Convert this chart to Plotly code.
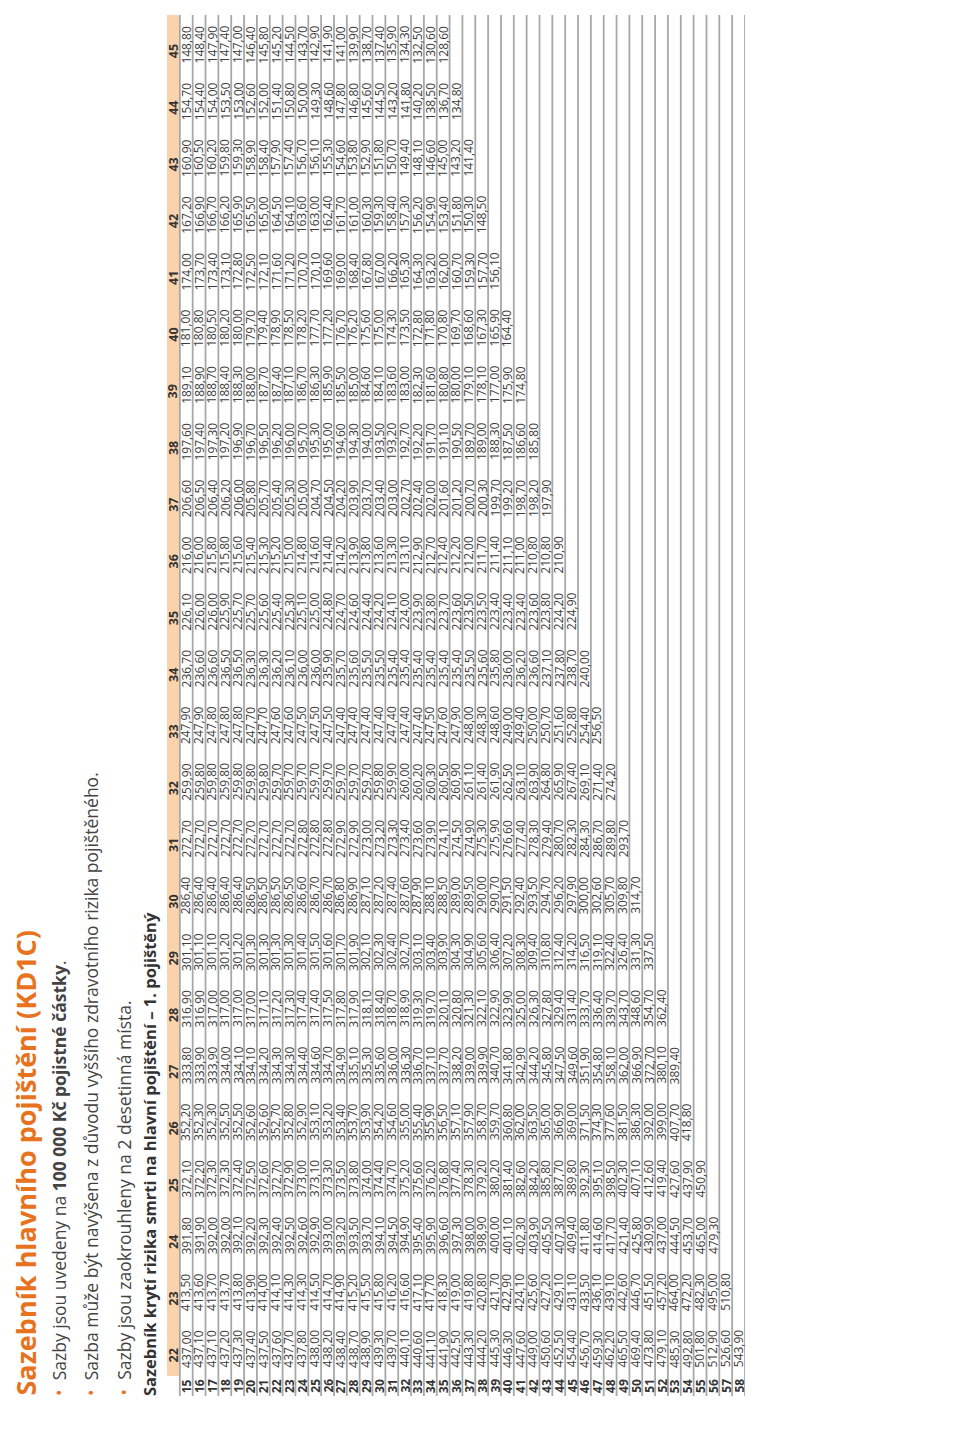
import plotly.graph_objects as go

# ---------------- data ----------------
ages = list(range(15, 59))          # age of the insured (rows)
terms = list(range(22, 46))         # policy term (columns)

t22 = [437.00, 437.10, 437.10, 437.20, 437.30, 437.40, 437.50, 437.60, 437.70, 437.80, 438.00, 438.20, 438.40, 438.70, 438.90, 439.30, 439.70, 440.10, 440.60, 441.10, 441.90, 442.50, 443.30, 444.20, 445.30, 446.30, 447.60, 449.00, 450.60, 452.50, 454.40, 456.70, 459.30, 462.20, 465.50, 469.40, 473.80, 479.10, 485.30, 492.80, 501.80, 512.90, 526.60, 543.90]
t23 = [413.50, 413.60, 413.70, 413.70, 413.80, 413.90, 414.00, 414.10, 414.30, 414.30, 414.50, 414.70, 414.90, 415.20, 415.50, 415.80, 416.20, 416.60, 417.10, 417.70, 418.30, 419.00, 419.80, 420.80, 421.70, 422.90, 424.10, 425.60, 427.20, 429.10, 431.10, 433.50, 436.10, 439.10, 442.60, 446.70, 451.50, 457.20, 464.00, 472.20, 482.30, 495.00, 510.80]
t24 = [391.80, 391.90, 392.00, 392.00, 392.10, 392.20, 392.30, 392.40, 392.50, 392.60, 392.90, 393.00, 393.20, 393.50, 393.70, 394.10, 394.50, 394.90, 395.40, 395.90, 396.60, 397.30, 398.00, 398.90, 400.00, 401.10, 402.30, 403.90, 405.50, 407.30, 409.40, 411.80, 414.60, 417.70, 421.40, 425.80, 430.90, 437.00, 444.50, 453.70, 465.00, 479.30]
t25 = [372.10, 372.20, 372.30, 372.30, 372.40, 372.50, 372.60, 372.70, 372.90, 373.00, 373.10, 373.30, 373.50, 373.80, 374.00, 374.40, 374.70, 375.20, 375.60, 376.20, 376.80, 377.40, 378.30, 379.20, 380.20, 381.40, 382.60, 384.20, 385.80, 387.70, 389.80, 392.30, 395.10, 398.50, 402.30, 407.10, 412.60, 419.40, 427.60, 437.90, 450.90]
t26 = [352.20, 352.30, 352.30, 352.50, 352.50, 352.60, 352.60, 352.70, 352.80, 352.90, 353.10, 353.20, 353.40, 353.70, 353.90, 354.20, 354.60, 355.00, 355.40, 355.90, 356.50, 357.10, 357.90, 358.70, 359.70, 360.80, 362.00, 363.50, 365.00, 366.90, 369.00, 371.50, 374.30, 377.60, 381.50, 386.30, 392.00, 399.00, 407.70, 418.80]
t27 = [333.80, 333.90, 333.90, 334.00, 334.10, 334.10, 334.20, 334.30, 334.30, 334.40, 334.60, 334.70, 334.90, 335.10, 335.30, 335.60, 336.00, 336.30, 336.70, 337.10, 337.70, 338.20, 339.00, 339.90, 340.70, 341.80, 342.90, 344.20, 345.80, 347.50, 349.60, 351.90, 354.80, 358.10, 362.00, 366.90, 372.70, 380.10, 389.40]
t28 = [316.90, 316.90, 317.00, 317.00, 317.00, 317.00, 317.10, 317.20, 317.30, 317.40, 317.40, 317.50, 317.80, 317.90, 318.10, 318.40, 318.70, 318.90, 319.30, 319.70, 320.10, 320.80, 321.30, 322.10, 322.90, 323.90, 325.00, 326.30, 327.80, 329.40, 331.40, 333.70, 336.40, 339.70, 343.70, 348.60, 354.70, 362.40]
t29 = [301.10, 301.10, 301.10, 301.20, 301.20, 301.30, 301.30, 301.30, 301.30, 301.40, 301.50, 301.60, 301.70, 301.90, 302.10, 302.30, 302.40, 302.70, 303.10, 303.40, 303.90, 304.30, 304.90, 305.60, 306.40, 307.20, 308.30, 309.40, 310.80, 312.40, 314.20, 316.50, 319.10, 322.40, 326.40, 331.30, 337.50]
t30 = [286.40, 286.40, 286.40, 286.40, 286.40, 286.50, 286.50, 286.50, 286.50, 286.60, 286.70, 286.70, 286.80, 286.90, 287.10, 287.20, 287.40, 287.60, 287.90, 288.10, 288.50, 289.00, 289.50, 290.00, 290.70, 291.50, 292.40, 293.50, 294.70, 296.20, 297.90, 300.00, 302.60, 305.70, 309.80, 314.70]
t31 = [272.70, 272.70, 272.70, 272.70, 272.70, 272.70, 272.70, 272.70, 272.70, 272.80, 272.80, 272.80, 272.90, 272.90, 273.00, 273.20, 273.30, 273.40, 273.60, 273.90, 274.10, 274.50, 274.90, 275.30, 275.90, 276.60, 277.40, 278.30, 279.40, 280.70, 282.30, 284.30, 286.70, 289.80, 293.70]
t32 = [259.90, 259.80, 259.80, 259.80, 259.80, 259.80, 259.80, 259.70, 259.70, 259.70, 259.70, 259.70, 259.70, 259.70, 259.70, 259.80, 259.90, 260.00, 260.20, 260.30, 260.50, 260.90, 261.10, 261.40, 261.90, 262.50, 263.10, 263.90, 264.80, 265.90, 267.40, 269.10, 271.40, 274.20]
t33 = [247.90, 247.90, 247.80, 247.80, 247.80, 247.70, 247.70, 247.60, 247.60, 247.50, 247.50, 247.50, 247.40, 247.40, 247.40, 247.40, 247.40, 247.40, 247.40, 247.50, 247.60, 247.90, 248.00, 248.30, 248.60, 249.00, 249.40, 250.00, 250.70, 251.60, 252.80, 254.40, 256.50]
t34 = [236.70, 236.60, 236.60, 236.50, 236.50, 236.30, 236.30, 236.20, 236.10, 236.00, 236.00, 235.90, 235.70, 235.60, 235.50, 235.50, 235.40, 235.40, 235.40, 235.40, 235.40, 235.40, 235.50, 235.60, 235.80, 236.00, 236.20, 236.60, 237.10, 237.80, 238.70, 240.00]
t35 = [226.10, 226.00, 226.00, 225.90, 225.70, 225.70, 225.60, 225.40, 225.30, 225.10, 225.00, 224.80, 224.70, 224.60, 224.40, 224.20, 224.10, 224.00, 223.90, 223.80, 223.70, 223.60, 223.50, 223.50, 223.40, 223.40, 223.40, 223.60, 223.80, 224.20, 224.90]
t36 = [216.00, 216.00, 215.80, 215.80, 215.60, 215.40, 215.30, 215.20, 215.00, 214.80, 214.60, 214.40, 214.20, 213.90, 213.80, 213.60, 213.30, 213.10, 212.90, 212.70, 212.40, 212.20, 212.00, 211.70, 211.40, 211.10, 211.00, 210.80, 210.80, 210.90]
t37 = [206.60, 206.50, 206.40, 206.20, 206.00, 205.80, 205.70, 205.40, 205.30, 205.00, 204.70, 204.50, 204.20, 203.90, 203.70, 203.40, 203.00, 202.70, 202.40, 202.00, 201.60, 201.20, 200.70, 200.30, 199.70, 199.20, 198.70, 198.20, 197.90]
t38 = [197.60, 197.40, 197.30, 197.20, 196.90, 196.70, 196.50, 196.20, 196.00, 195.70, 195.30, 195.00, 194.60, 194.30, 194.00, 193.50, 193.20, 192.70, 192.20, 191.70, 191.10, 190.50, 189.70, 189.00, 188.30, 187.50, 186.60, 185.80]
t39 = [189.10, 188.90, 188.70, 188.40, 188.30, 188.00, 187.70, 187.40, 187.10, 186.70, 186.30, 185.90, 185.50, 185.00, 184.60, 184.10, 183.60, 183.00, 182.30, 181.60, 180.80, 180.00, 179.10, 178.10, 177.00, 175.90, 174.80]
t40 = [181.00, 180.80, 180.50, 180.20, 180.00, 179.70, 179.40, 178.90, 178.50, 178.20, 177.70, 177.20, 176.70, 176.20, 175.60, 175.00, 174.30, 173.50, 172.80, 171.80, 170.80, 169.70, 168.60, 167.30, 165.90, 164.40]
t41 = [174.00, 173.70, 173.40, 173.10, 172.80, 172.50, 172.10, 171.60, 171.20, 170.70, 170.10, 169.60, 169.00, 168.40, 167.80, 167.00, 166.20, 165.30, 164.30, 163.20, 162.00, 160.70, 159.30, 157.70, 156.10]
t42 = [167.20, 166.90, 166.70, 166.20, 165.90, 165.50, 165.00, 164.50, 164.10, 163.60, 163.00, 162.40, 161.70, 161.00, 160.30, 159.30, 158.40, 157.30, 156.20, 154.90, 153.40, 151.80, 150.30, 148.50]
t43 = [160.90, 160.50, 160.20, 159.80, 159.30, 158.90, 158.40, 157.90, 157.40, 156.70, 156.10, 155.30, 154.60, 153.80, 152.90, 151.80, 150.70, 149.40, 148.10, 146.60, 145.00, 143.20, 141.40]
t44 = [154.70, 154.40, 154.00, 153.50, 153.00, 152.60, 152.00, 151.40, 150.80, 150.00, 149.30, 148.60, 147.80, 146.80, 145.60, 144.50, 143.20, 141.80, 140.20, 138.50, 136.70, 134.80]
t45 = [148.80, 148.40, 147.90, 147.40, 147.00, 146.40, 145.80, 145.20, 144.50, 143.70, 142.90, 141.90, 141.00, 139.90, 138.70, 137.40, 135.90, 134.30, 132.50, 130.60, 128.60]

term_values = [t22, t23, t24, t25, t26, t27, t28, t29, t30, t31, t32, t33,
               t34, t35, t36, t37, t38, t39, t40, t41, t42, t43, t44, t45]

title = "Sazebník hlavního pojištění (KD1C)"
bullets = [
    "Sazby jsou uvedeny na <b>100 000 Kč pojistné částky</b>.",
    "Sazba může být navýšena z důvodu vyššího zdravotního rizika pojištěného.",
    "Sazby jsou zaokrouhleny na 2 desetinná místa.",
]
subtitle = "Sazebník krytí rizika smrti na hlavní pojištění – 1. pojištěný"
page_no = "11"

# ---------------- styling / layout ----------------
W, H = 960, 1454
FONT = "Open Sans"
ORANGE = "#E8731E"
HEAD_BG = "#FAD3AD"
GRID = "#A8A8A8"
TXT = "#3C3C3C"

tbl_left, tbl_right = 159, 737      # px
tbl_top, tbl_bottom = 7, 1388       # px
strip_units = 0.3527                # row-label strip height in term units
y_lo = terms[0] - 0.5 - strip_units
y_hi = terms[-1] + 0.5
x_lo = ages[0] - 1.5
x_hi = ages[-1] + 0.5


def fmt(v):
    return f"{v:.2f}".replace(".", ",")


fig = go.Figure()
fig.add_trace(go.Scatter(x=[x_lo, x_hi], y=[y_lo, y_hi], mode="markers",
                         marker=dict(opacity=0), hoverinfo="skip", showlegend=False))

shapes = []
# header strip (term labels)
shapes.append(dict(type="rect", xref="x", yref="y", x0=x_lo, x1=ages[0] - 0.5,
                   y0=terms[0] - 0.5, y1=y_hi, fillcolor=HEAD_BG, line=dict(width=0), layer="below"))
# row separators
for a in [ages[0] - 1] + ages:
    shapes.append(dict(type="line", xref="x", yref="y", x0=a + 0.5, x1=a + 0.5,
                       y0=y_lo, y1=y_hi, line=dict(color=GRID, width=1.8)))

ann = []
for term, vals in zip(terms, term_values):
    # header label
    ann.append(dict(x=ages[0] - 1, y=term - 0.5, xref="x", yref="y", text=f"<b>{term}</b>",
                    textangle=-90, showarrow=False, xanchor="center", yanchor="bottom",
                    yshift=12, font=dict(family=FONT, size=12.5, color="#333333")))
    for age, v in zip(ages, vals):
        ann.append(dict(x=age, y=term, xref="x", yref="y", text=fmt(v),
                        textangle=-90, showarrow=False, xanchor="center", yanchor="middle",
                        yshift=-1, font=dict(family=FONT, size=12, color=TXT)))
for age in ages:
    ann.append(dict(x=age, y=terms[0] - 0.5 - strip_units / 2, xref="x", yref="y",
                    text=f"<b>{age}</b>", textangle=-90, showarrow=False,
                    xanchor="center", yanchor="middle",
                    font=dict(family=FONT, size=12, color="#333333")))


# title block (rotated page)
def px(xp):
    return xp / W


def py(yp):
    return 1 - yp / H


ann.append(dict(x=px(17), y=py(1390), xref="paper", yref="paper", text=f"<b>{title}</b>",
                textangle=-90, showarrow=False, xanchor="center", yanchor="bottom",
                font=dict(family=FONT, size=27, color=ORANGE)))
for i, b in enumerate(bullets):
    ann.append(dict(x=px(51 + 32 * i), y=py(1390), xref="paper", yref="paper",
                    text=f"<span style='color:{ORANGE}'>•</span>  {b}",
                    textangle=-90, showarrow=False, xanchor="center", yanchor="bottom",
                    font=dict(family=FONT, size=17.5, color="#444444")))
ann.append(dict(x=px(141), y=py(1390), xref="paper", yref="paper", text=f"<b>{subtitle}</b>",
                textangle=-90, showarrow=False, xanchor="center", yanchor="bottom",
                font=dict(family=FONT, size=16.5, color="#333333")))
ann.append(dict(x=px(952), y=py(1446), xref="paper", yref="paper", text=page_no,
                showarrow=False, xanchor="center", yanchor="middle",
                font=dict(family=FONT, size=13, color="#555555")))

fig.update_layout(
    width=W, height=H, margin=dict(l=0, r=0, t=0, b=0),
    paper_bgcolor="white", plot_bgcolor="white",
    xaxis=dict(domain=[tbl_left / W, tbl_right / W], range=[x_lo, x_hi], visible=False, fixedrange=True),
    yaxis=dict(domain=[1 - tbl_bottom / H, 1 - tbl_top / H], range=[y_lo, y_hi], visible=False, fixedrange=True),
    shapes=shapes, annotations=ann, showlegend=False,
)

fig.write_html("out.html")
